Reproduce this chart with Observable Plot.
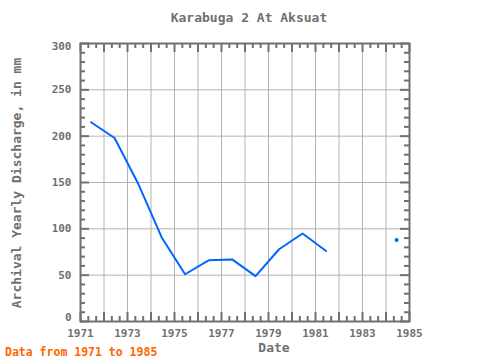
<!DOCTYPE html>
<html>
<head>
<meta charset="utf-8">
<script src="https://cdn.jsdelivr.net/npm/d3@7"></script>
<script src="https://cdn.jsdelivr.net/npm/@observablehq/plot@0.6"></script>
<style>
  html, body { margin: 0; padding: 0; background: #fff; }
  #chart { width: 480px; height: 360px; }
</style>
</head>
<body>
<div id="chart"></div>
<script>
const years = [1971, 1972, 1973, 1974, 1975, 1976, 1977, 1978, 1979, 1980, 1981, 1982, 1983, 1984];
const discharge = [215, 198, 149, 91, 51, 66, 67, 49, 78, 95, 76, null, null, 88];
const xTickLabels = [1971, 1973, 1975, 1977, 1979, 1981, 1983, 1985];
const yTickLabels = [0, 50, 100, 150, 200, 250, 300];

const data = years.map((year, i) => ({year, value: discharge[i]}));
const isolated = data.filter((d, i) => d.value != null &&
  (i === 0 || discharge[i - 1] == null) && (i === data.length - 1 || discharge[i + 1] == null));

const W = 480, H = 360, mL = 80, mR = 71, mT = 43, mB = 39;
const innerW = W - mL - mR, innerH = H - mT - mB;
const gray = "#707070", grid = "#b4b4b4", blue = "#0066ff";
const xPos = d => d.year + 0.45;

const majorX = d3.range(1971, 1986);
const minorX = d3.range(1971, 1985).flatMap(y => [y + 1/3, y + 2/3]);
const majorY = d3.range(0, 301, 50);
const minorY = d3.range(0, 301, 10).filter(v => v % 50 !== 0);

const plot = Plot.plot({
  width: W, height: H,
  marginLeft: mL, marginRight: mR, marginTop: mT, marginBottom: mB,
  style: {fontFamily: "DejaVu Sans Mono", fontSize: "11px", fontWeight: "bold", color: gray, background: "#fff"},
  x: {domain: [1971, 1985]},
  y: {domain: [0, 300]},
  marks: [
    Plot.ruleX(majorX.slice(1, -1), {stroke: grid, strokeWidth: 1}),
    Plot.ruleY(majorY.slice(1, -1), {stroke: grid, strokeWidth: 1}),
    // ticks bottom/top
    Plot.ruleX(majorX, {stroke: gray, strokeWidth: 2, insetTop: innerH - 9}),
    Plot.ruleX(majorX, {stroke: gray, strokeWidth: 2, insetBottom: innerH - 9}),
    Plot.ruleX(minorX, {stroke: gray, strokeWidth: 2, insetTop: innerH - 5}),
    Plot.ruleX(minorX, {stroke: gray, strokeWidth: 2, insetBottom: innerH - 5}),
    // ticks left/right
    Plot.ruleY(majorY, {stroke: gray, strokeWidth: 2, insetRight: innerW - 9}),
    Plot.ruleY(majorY, {stroke: gray, strokeWidth: 2, insetLeft: innerW - 9}),
    Plot.ruleY(minorY, {stroke: gray, strokeWidth: 2, insetRight: innerW - 5}),
    Plot.ruleY(minorY, {stroke: gray, strokeWidth: 2, insetLeft: innerW - 5}),
    Plot.frame({stroke: gray, strokeWidth: 2}),
    Plot.line(data, {x: xPos, y: "value", stroke: blue, strokeWidth: 2}),
    Plot.dot(isolated, {x: xPos, y: "value", fill: blue, r: 2}),
    Plot.axisX({ticks: xTickLabels, tickSize: 0, tickPadding: 8, tickFormat: "d", label: null, fill: gray}),
    Plot.axisY({ticks: yTickLabels.slice(1, -1), tickSize: 0, tickPadding: 9, label: null, fill: gray}),
    Plot.axisY({ticks: yTickLabels.slice(0, 1), tickSize: 0, tickPadding: 9, label: null, fill: gray, dy: -4}),
    Plot.axisY({ticks: yTickLabels.slice(-1), tickSize: 0, tickPadding: 9, label: null, fill: gray, dy: 3})
  ]
});

document.getElementById("chart").appendChild(plot);

const svg = d3.select(plot);
svg.append("text").attr("x", 249).attr("y", 22).attr("text-anchor", "middle")
  .attr("font-family", "DejaVu Sans Mono").attr("font-size", 13).attr("font-weight", "bold")
  .attr("fill", gray).text("Karabuga 2 At Aksuat");
svg.append("text").attr("transform", "translate(21,183) rotate(-90)").attr("text-anchor", "middle")
  .attr("font-family", "DejaVu Sans Mono").attr("font-size", 13).attr("font-weight", "bold")
  .attr("fill", gray).text("Archival Yearly Discharge, in mm");
svg.append("text").attr("x", 274).attr("y", 352).attr("text-anchor", "middle")
  .attr("font-family", "DejaVu Sans Mono").attr("font-size", 13).attr("font-weight", "bold")
  .attr("fill", gray).text("Date");
svg.append("text").attr("x", 5).attr("y", 356).attr("text-anchor", "start")
  .attr("font-family", "DejaVu Sans Mono").attr("font-size", 11.5).attr("font-weight", "bold")
  .attr("fill", "#ff6600").text("Data from 1971 to 1985");
</script>
</body>
</html>
